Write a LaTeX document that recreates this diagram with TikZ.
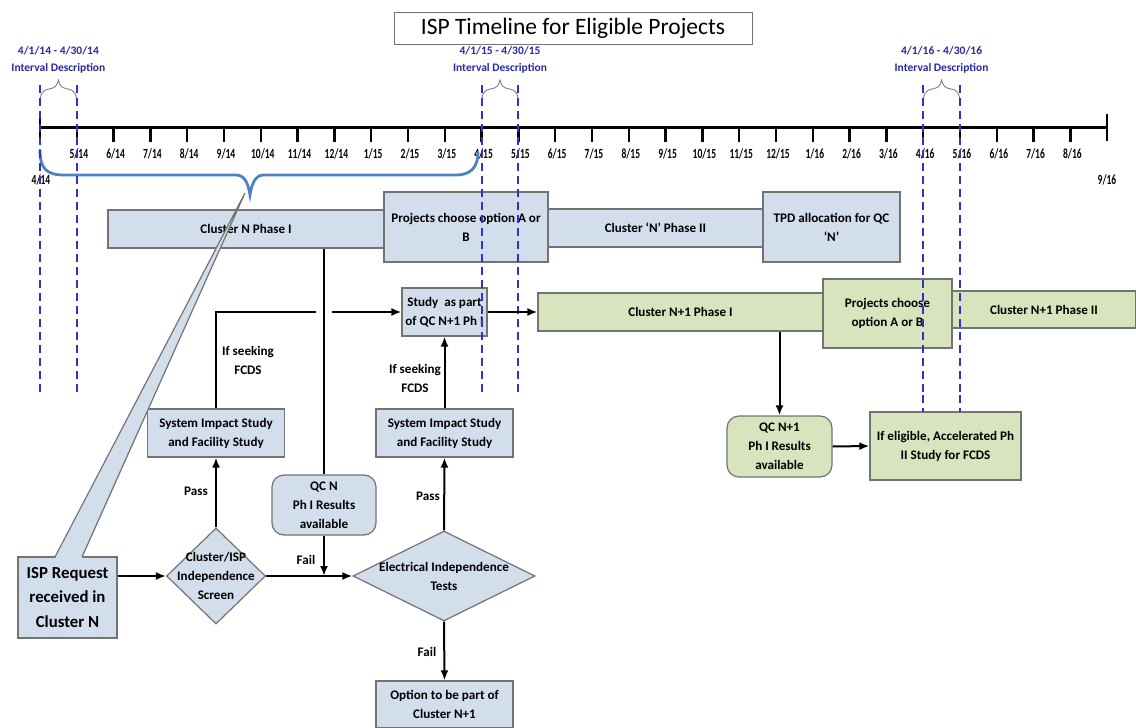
\documentclass[tikz,border=0pt]{standalone}
\usepackage{fontspec}
\setmainfont{Carlito}
\newfontfamily\tickfont{Carlito}[FakeStretch=0.68]
\usetikzlibrary{arrows.meta,shapes.geometric}
\definecolor{boxblue}{RGB}{210,222,236}
\definecolor{boxgreen}{RGB}{215,228,189}
\definecolor{edgegray}{RGB}{115,115,115}
\definecolor{navy}{RGB}{40,40,160}
\definecolor{dashblue}{RGB}{50,50,200}
\definecolor{bracecol}{RGB}{79,129,189}
\begin{document}
\begin{tikzpicture}[x=1pt, y=-1pt,
        box/.style={draw=edgegray, line width=1.2pt, fill=boxblue, inner sep=0pt, align=center, font=\bfseries\fontsize{13.1}{19}\selectfont},
        greenbox/.style={box, fill=boxgreen},
        lab/.style={inner sep=0pt, align=center, font=\bfseries\fontsize{13.1}{19}\selectfont},
        arr/.style={line width=2pt, -{Latex[length=10pt, width=8pt]}},
        link/.style={line width=2pt},
        monthtick/.style={line width=2.5pt},
        ticklab/.style={inner sep=0pt, font=\tickfont\bfseries\fontsize{14}{14}\selectfont},
        intlab/.style={inner sep=0pt, align=center, text=navy, font=\bfseries\fontsize{11.5}{17}\selectfont},
        intline/.style={dashblue, line width=2pt, dash pattern=on 8pt off 5pt},
        smallbrace/.style={draw=gray, line width=0.9pt},
        bigbrace/.style={bracecol, line width=2.8pt, line cap=round}]
        \useasboundingbox (0,0) rectangle (1136,728);

        % Title
        \node[draw=edgegray, line width=1pt, fill=white, minimum width=358pt, minimum height=32pt, font=\fontsize{23.5}{28}\selectfont] (title) at (573,28) {ISP Timeline for Eligible Projects};

        % Interval descriptions
        \node[intlab] (int14) at (58.4,59.5) {4/1/14 - 4/30/14\\Interval Description};
        \node[intlab] (int15) at (500,59.5) {4/1/15 - 4/30/15\\Interval Description};
        \node[intlab] (int16) at (941.6,59.5) {4/1/16 - 4/30/16\\Interval Description};
        \foreach \k in {0,12,24} {
            \begin{scope}[shift={(40+\k*36.8,0)}]
                \draw[smallbrace] (0,104) .. controls (0,93) and (3,90) .. (9,89) .. controls (15,88) and (17,86) .. (18.4,80) .. controls (19.8,86) and (21.8,88) .. (27.8,89) .. controls (33.8,90) and (36.8,93) .. (36.8,104);
            \end{scope}
        }

        % Timeline
        \draw[line width=3pt] (40,127) -- (1107,127);
        \draw[monthtick] (40,115) -- (40,141);
        \draw[monthtick] (1107,114) -- (1107,141);
        \foreach \mo/\yr [count=\k] in {5/14,6/14,7/14,8/14,9/14,10/14,11/14,12/14,1/15,2/15,3/15,4/15,5/15,6/15,7/15,8/15,9/15,10/15,11/15,12/15,1/16,2/16,3/16,4/16,5/16,6/16,7/16,8/16} {
            \draw[monthtick] (40+\k*36.8,127) -- (40+\k*36.8,142);
            \node[ticklab] (m\k) at (42+\k*36.8,154) {\mo/\yr};
        }
        \node[ticklab] (m0) at (41,180) {4/14};
        \node[ticklab] (m29) at (1107,180) {9/16};

        % Cluster N brace
        \draw[bigbrace] (40,150) .. controls (40,168) and (46,175) .. (64,175) -- (236,175) .. controls (244,175) and (248,182) .. (250,195) .. controls (252,182) and (256,175) .. (264,175) -- (456,175) .. controls (470,175) and (478,168) .. (478,152);

        % Cluster N row
        \node[box, minimum width=276pt, minimum height=38pt] (clNph1) at (246,229) {Cluster N Phase I};
        \node[box, minimum width=164pt, minimum height=70pt] (chooseN) at (466,227) {Projects choose option A or\\B};
        \node[box, minimum width=215pt, minimum height=38pt] (clNph2) at (655.5,228) {Cluster ‘N’ Phase II};
        \node[box, minimum width=137pt, minimum height=70pt] (tpd) at (831.5,227) {TPD allocation for QC\\‘N’};

        % Cluster N+1 row
        \node[box, minimum width=85pt, minimum height=48pt] (study) at (444.5,312) {Study~~as part\\of QC N+1 Ph I};
        \node[greenbox, minimum width=285pt, minimum height=38pt] (clN1ph1) at (680.5,312) {Cluster N+1 Phase I};
        \node[greenbox, minimum width=129pt, minimum height=69pt] (chooseN1) at (887.5,313.5) {Projects choose\\option A or B};
        \node[greenbox, minimum width=184pt, minimum height=37pt] (clN1ph2) at (1044,309.5) {Cluster N+1 Phase II};

        % Studies and results
        \node[box, minimum width=137pt, minimum height=48pt] (sisL) at (216,433) {System Impact Study\\and Facility Study};
        \node[box, minimum width=137pt, minimum height=48pt] (sisR) at (444.5,433) {System Impact Study\\and Facility Study};
        \node[box, rounded corners=12pt, minimum width=104pt, minimum height=60pt] (qcN) at (324,505) {QC N\\Ph I Results\\available};
        \node[greenbox, rounded corners=12pt, minimum width=105pt, minimum height=61pt] (qcN1) at (779.5,446.5) {QC N+1\\Ph I Results\\available};
        \node[greenbox, minimum width=151pt, minimum height=68pt] (elig) at (945.5,446) {If eligible, Accelerated Ph\\II Study for FCDS};

        % Request and tests
        \node[box, minimum width=99pt, minimum height=81pt, font=\bfseries\fontsize{16.8}{24.5}\selectfont] (isp) at (67.5,597.5) {ISP Request\\received in\\Cluster N};
        \node[box, diamond, minimum width=99pt, minimum height=96pt] (screen) at (216,576) {};
        \node[lab] (screentxt) at (216,576) {Cluster/ISP\\Independence\\Screen};
        \node[box, diamond, minimum width=182pt, minimum height=90pt] (elec) at (444,576) {};
        \node[lab] (electxt) at (444,576) {Electrical Independence\\Tests};
        \node[box, minimum width=137pt, minimum height=47pt] (option) at (444.5,704.5) {Option to be part of\\Cluster N+1};

        % Interval lines
        \foreach \x in {40,77,482,518,923,960}
            \draw[intline] (\x,85) -- (\x,395);
        \foreach \x in {923,960}
            \draw[intline] (\x,395) -- (\x,412);

        % Callout from the brace
        \fill[boxblue] (55,558.5) -- (245,193) -- (82,558.5) -- cycle;
        \draw[edgegray, line width=1.2pt] (55,557) -- (245,193) -- (82,557);

        % Connectors
        \coordinate (hopL) at (316,312);
        \coordinate (hopR) at (332,312);
        \draw[arr] (isp.east |- screen.west) -- (screen.west);
        \draw[arr] (screen.east) -- (elec.west);
        \draw[arr] (screen.north) -- (sisL.south);
        \draw[link] (sisL.north) |- (hopL);
        \draw[arr] (hopR) -- (study.west);
        \draw[link] (qcN.north |- clNph1.south) -- (qcN.north);
        \draw[arr] (qcN.south) -- (qcN.south |- elec.west);
        \draw[arr] (elec.north) -- (sisR.south);
        \draw[arr] (sisR.north) -- (study.south);
        \draw[arr] (elec.south) -- (option.north);
        \draw[arr] (study.east) -- (clN1ph1.west);
        \draw[arr] (clN1ph1.south -| qcN1.north) -- (qcN1.north);
        \draw[arr] (qcN1.east) -- (elig.west);

        % Connector labels
        \node[lab] (passL) at (196,491) {Pass};
        \node[lab] (seekL) at (248,360) {If seeking\\FCDS};
        \node[lab] (failN) at (306,560) {Fail};
        \node[lab] (seekR) at (415,378) {If seeking\\FCDS};
        \node[lab] (passR) at (428,496) {Pass};
        \node[lab] (failE) at (427,652) {Fail};
    \end{tikzpicture}
\end{document}
